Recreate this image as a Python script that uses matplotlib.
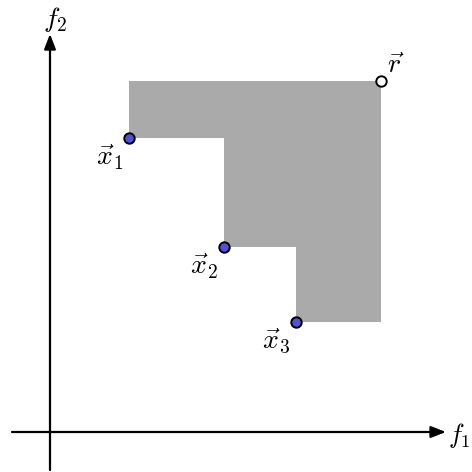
import matplotlib
matplotlib.use("Agg")
import matplotlib.pyplot as plt
from matplotlib.patches import Polygon

plt.rcParams['mathtext.fontset'] = 'cm'

# Pareto points (f1, f2) and reference point
pts_f1 = [79, 174, 246]
pts_f2 = [294, 185, 110]
pt_labels = [r'$\vec{x}_1$', r'$\vec{x}_2$', r'$\vec{x}_3$']
ref_f1 = 331
ref_f2 = 351

fig = plt.figure(figsize=(4.72, 4.72), dpi=100)
ax = fig.add_axes([0, 0, 1, 1])
ax.set_xlim(-50, 422)
ax.set_ylim(-40, 432)
ax.axis('off')

# dominated region (staircase)
verts = [(pts_f1[0], ref_f2), (ref_f1, ref_f2), (ref_f1, pts_f2[-1])]
for i in range(len(pts_f1) - 1, -1, -1):
    verts.append((pts_f1[i], pts_f2[i]))
    if i > 0:
        verts.append((pts_f1[i], pts_f2[i - 1]))
poly = Polygon(verts, closed=True, facecolor='#aaaaaa', edgecolor='none', zorder=1)
ax.add_patch(poly)

# axes arrows
ax.annotate('', xy=(396, 0), xytext=(-38, 0),
            arrowprops=dict(arrowstyle='-|>,head_length=0.9,head_width=0.35',
                            color='black', lw=1.6, shrinkA=0, shrinkB=0), zorder=2)
ax.annotate('', xy=(0, 398), xytext=(0, -38),
            arrowprops=dict(arrowstyle='-|>,head_length=0.9,head_width=0.35',
                            color='black', lw=1.6, shrinkA=0, shrinkB=0), zorder=2)
ax.text(398, -3, r'$f_1$', fontsize=19, ha='left', va='center')
ax.text(5, 412, r'$f_2$', fontsize=20, ha='center', va='center')

# points
ax.plot(pts_f1, pts_f2, 'o', ms=7.5, mfc='#5050dd', mec='black', mew=1.4, zorder=3)
ax.plot([ref_f1], [ref_f2], 'o', ms=7.5, mfc='white', mec='black', mew=1.4, zorder=3)

for x, y, lab in zip(pts_f1, pts_f2, pt_labels):
    ax.text(x - 6, y - 5, lab, fontsize=20, ha='right', va='top')
ax.text(ref_f1 + 6, ref_f2 + 2, r'$\vec{r}$', fontsize=20, ha='left', va='bottom')

fig.savefig('out.png', dpi=100)
